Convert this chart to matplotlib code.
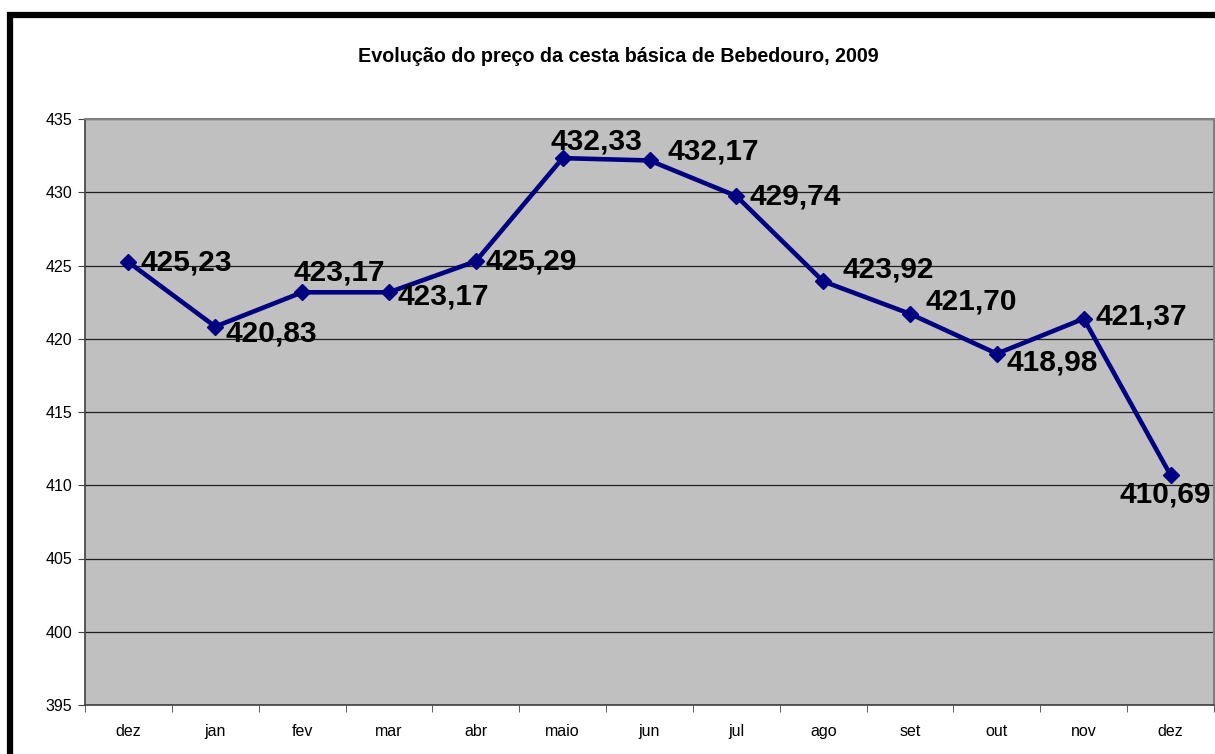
import matplotlib.pyplot as plt
import numpy as np
from matplotlib.lines import Line2D

plt.rcParams['font.family'] = ['Liberation Sans', 'DejaVu Sans']

meses = ['dez', 'jan', 'fev', 'mar', 'abr', 'maio', 'jun', 'jul', 'ago', 'set', 'out', 'nov', 'dez']
precos = [425.23, 420.83, 423.17, 423.17, 425.29, 432.33, 432.17, 429.74, 423.92, 421.70, 418.98, 421.37, 410.69]
# label offsets in pixels (dx, dy)
offsets = [(12, 0), (10, -7), (-9, 20), (9, -4), (10, 0), (-12, 17), (18, 9),
           (13, 0), (19, 12), (15, 12), (10, -9), (12, 2), (-51, -19)]

fig = plt.figure(figsize=(12.15, 7.54), dpi=100)
ax = fig.add_axes([85 / 1215, 1 - 705 / 754, (1214 - 85) / 1215, (705 - 119) / 754])
ax.set_facecolor('#C0C0C0')

x = np.arange(len(meses))
ax.plot(x, precos, color='#000080', lw=3.3, marker='D', ms=8.5, zorder=3)

for xi, v, (dx, dy) in zip(x, precos, offsets):
    ax.annotate(f'{v:.2f}'.replace('.', ','), (xi, v), xytext=(dx, dy),
                textcoords='offset pixels', ha='left', va='center',
                fontsize=21.5, fontweight='bold', color='black', zorder=4)

ax.set_xlim(-0.5, len(meses) - 0.5)
ax.set_ylim(395, 435)
ax.set_yticks(np.arange(395, 436, 5))
ax.yaxis.grid(True, color='#202020', lw=0.9)
ax.set_axisbelow(True)
ax.set_xticks(x)
ax.set_xticklabels(meses)
ax.set_xticks(np.arange(-0.5, len(meses), 1), minor=True)
ax.tick_params(axis='x', which='major', length=0, pad=14, labelsize=11.5)
ax.tick_params(axis='x', which='minor', length=5, direction='out', color='#404040')
ax.tick_params(axis='y', length=5, direction='out', color='#404040', labelsize=11.5, pad=4)
for s in ['top', 'right']:
    ax.spines[s].set_color('#808080')
    ax.spines[s].set_linewidth(1.5)
for s in ['left', 'bottom']:
    ax.spines[s].set_color('#404040')
    ax.spines[s].set_linewidth(1.2)

fig.text(0.509, 1 - 57 / 754, 'Evolução do preço da cesta básica de Bebedouro, 2009',
         ha='center', va='center', fontsize=14.2, fontweight='bold')

fig.add_artist(Line2D([10 / 1215, 10 / 1215, 1.0], [0, 1 - 15 / 754, 1 - 15 / 754],
                      transform=fig.transFigure, color='black', lw=4.5,
                      solid_joinstyle='miter'))

fig.savefig('out.png', dpi=100)
